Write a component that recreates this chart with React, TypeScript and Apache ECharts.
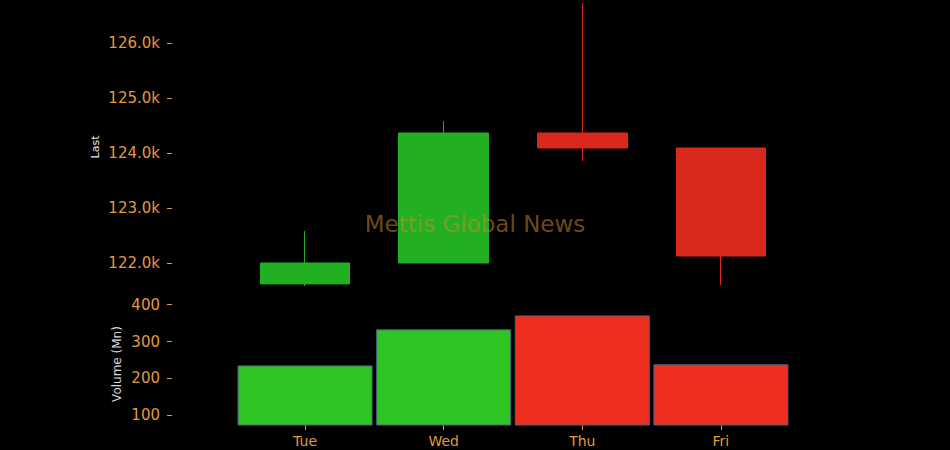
import React, { useEffect, useRef } from "react";
import * as echarts from "echarts";

const days = ["Tue", "Wed", "Thu", "Fri"];
const opens = [121620, 122000, 124364, 124091];
const closes = [122000, 124364, 124091, 122127];
const lows = [121582, 122000, 123855, 121600];
const highs = [122582, 124582, 126727, 124091];
const volumes = [235, 333, 371, 238];
const priceTicks = [122000, 123000, 124000, 125000, 126000];
const volumeTicks = [100, 200, 300, 400];
const dayTicks = [0, 1, 2, 3];

const LABEL = "#e19a3e";
const FONT = "DejaVu Sans";

export default function App() {
  const ref = useRef<HTMLDivElement>(null);
  useEffect(() => {
    const chart = echarts.init(ref.current!, undefined, { renderer: "svg" });
    const candleData = days.map((_, i) => [i, opens[i], closes[i], lows[i], highs[i]]);
    const up = (i: number) => closes[i] >= opens[i];
    const volData = days.map((_, i) => ({
      value: [i, volumes[i]],
      itemStyle: { color: up(i) ? "#2ec422" : "#ee2f1d" },
    }));
    const xCommon = {
      type: "value",
      min: -0.96,
      max: 3.96,
      splitLine: { show: false },
      axisLine: { show: false, onZero: false },
    };
    const yCommon = {
      type: "value",
      splitLine: { show: false },
      axisLine: { show: false, onZero: false },
    };
    chart.setOption({
      animation: false,
      backgroundColor: "#000000",
      textStyle: { fontFamily: FONT },
      grid: [
        { left: 172, right: 96, top: 0, height: 292 },
        { left: 172, right: 96, top: 297, bottom: 25 },
      ],
      xAxis: [
        {
          ...xCommon,
          gridIndex: 0,
          axisTick: { show: false },
          axisLabel: { show: false },
        },
        {
          ...xCommon,
          gridIndex: 1,
          axisTick: {
            show: true,
            length: 5,
            lineStyle: { color: LABEL },
            customValues: dayTicks,
          },
          axisLabel: {
            show: true,
            color: LABEL,
            fontSize: 14,
            fontFamily: FONT,
            margin: 9,
            customValues: dayTicks,
            formatter: (v: number) => days[Math.round(v)] ?? "",
          },
        },
      ],
      yAxis: [
        {
          ...yCommon,
          gridIndex: 0,
          min: 121473,
          max: 126782,
          axisTick: {
            show: true,
            length: 5,
            lineStyle: { color: LABEL },
            customValues: priceTicks,
          },
          axisLabel: {
            color: LABEL,
            fontSize: 15,
            fontFamily: FONT,
            margin: 12,
            customValues: priceTicks,
            formatter: (v: number) => (v / 1000).toFixed(1) + "k",
          },
        },
        {
          ...yCommon,
          gridIndex: 1,
          min: 73,
          max: 421,
          axisTick: {
            show: true,
            length: 5,
            lineStyle: { color: LABEL },
            customValues: volumeTicks,
          },
          axisLabel: {
            color: LABEL,
            fontSize: 15,
            fontFamily: FONT,
            margin: 12,
            customValues: volumeTicks,
          },
        },
      ],
      series: [
        {
          type: "candlestick",
          xAxisIndex: 0,
          yAxisIndex: 0,
          barWidth: 90,
          data: candleData,
          itemStyle: {
            color: "#22b022",
            color0: "#d9291c",
            borderColor: "#22b022",
            borderColor0: "#d9291c",
            borderWidth: 1,
          },
        },
        {
          type: "bar",
          xAxisIndex: 1,
          yAxisIndex: 1,
          barWidth: 135,
          data: volData,
          itemStyle: { borderColor: "#4e6484", borderWidth: 1 },
        },
      ],
      graphic: [
        {
          type: "text",
          x: 95,
          y: 147,
          rotation: Math.PI / 2,
          style: {
            text: "Last",
            fill: "#e8e8e8",
            font: `11px "${FONT}"`,
            textAlign: "center",
            textVerticalAlign: "middle",
          },
        },
        {
          type: "text",
          x: 117,
          y: 364,
          rotation: Math.PI / 2,
          style: {
            text: "Volume (Mn)",
            fill: "#d8d8d8",
            font: `12px "${FONT}"`,
            textAlign: "center",
            textVerticalAlign: "middle",
          },
        },
        {
          type: "text",
          x: 475,
          y: 224,
          z: 100,
          style: {
            text: "Mettis Global News",
            fill: "rgba(200,140,40,0.55)",
            font: `23px "${FONT}"`,
            textAlign: "center",
            textVerticalAlign: "middle",
          },
        },
      ],
    });
    return () => chart.dispose();
  }, []);
  return (
    <div
      ref={ref}
      style={{ position: "fixed", left: 0, top: 0, width: 950, height: 450 }}
    />
  );
}
